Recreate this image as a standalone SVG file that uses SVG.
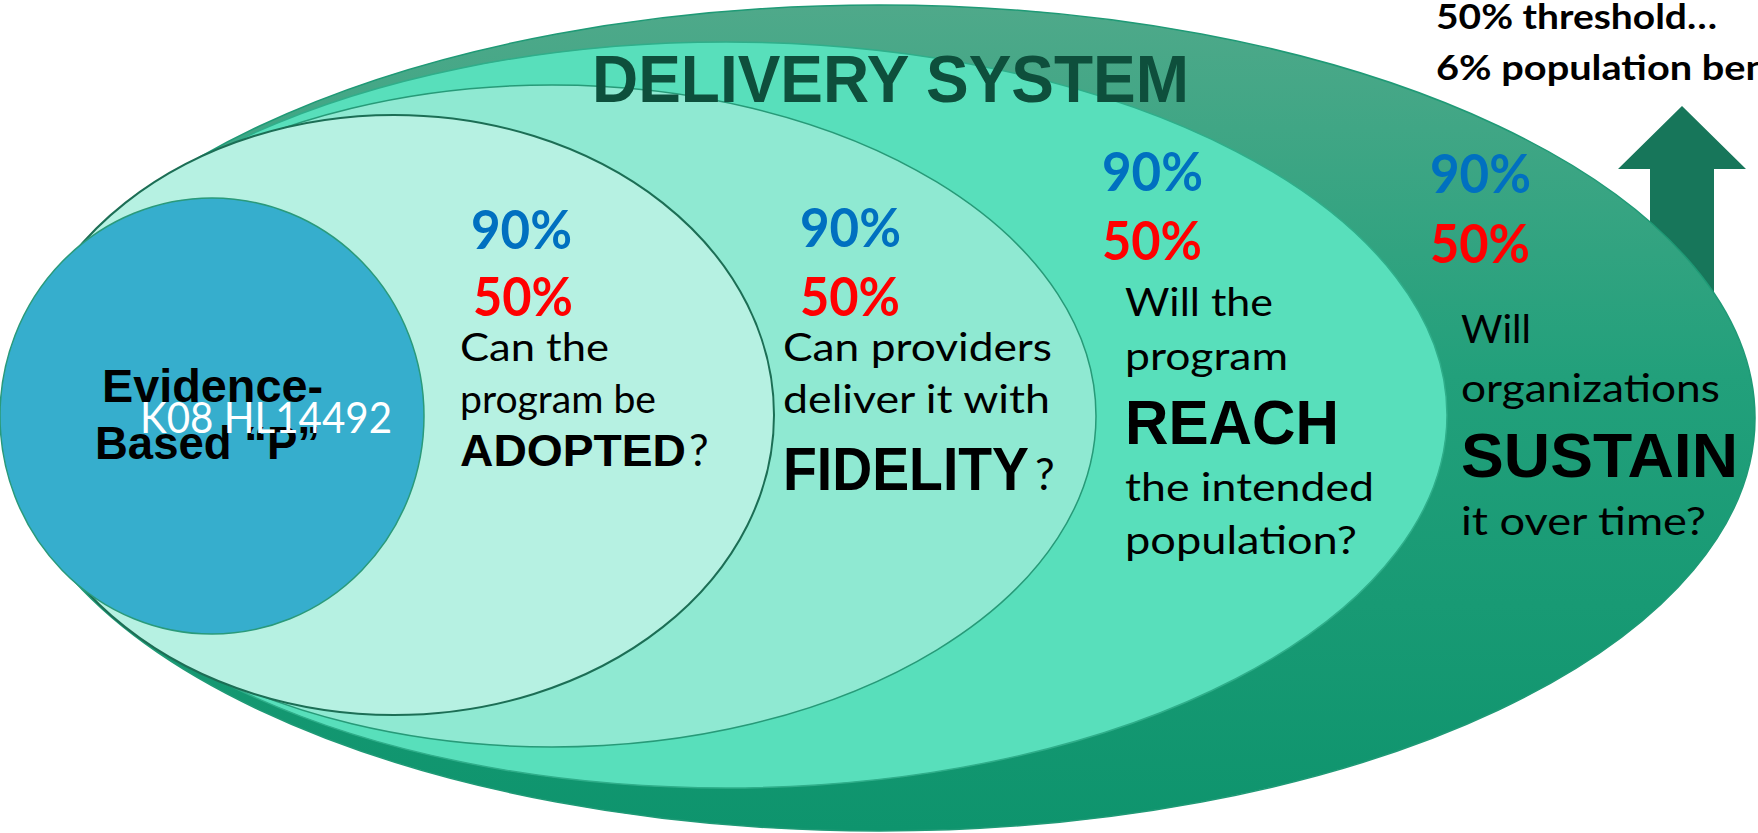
<svg xmlns="http://www.w3.org/2000/svg" width="1758" height="833" viewBox="0 0 1758 833">
<defs>
<linearGradient id="gOuter" x1="0" y1="0" x2="0" y2="1">
<stop offset="0" stop-color="#4fa98a"/>
<stop offset="0.45" stop-color="#22a07b"/>
<stop offset="1" stop-color="#0e946d"/>
</linearGradient>
<style>
.q{font-family:Lato,"Open Sans","Noto Sans",sans-serif;font-size:39px;fill:#000}
.qm{font-family:Lato,"Open Sans","Noto Sans",sans-serif;font-size:44px;fill:#000}
.qb{font-family:"Liberation Sans",Arial,sans-serif;font-weight:bold;fill:#000}
.pb{font-family:Lato,"Open Sans",sans-serif;font-weight:bold;font-size:53px;fill:#0070c0}
.pr{font-family:Lato,"Open Sans",sans-serif;font-weight:bold;font-size:53px;fill:#ff0000}
.top{font-family:Lato,"Open Sans",sans-serif;font-weight:bold;font-size:35px;fill:#000}
</style>
</defs>
<rect width="1758" height="833" fill="#ffffff"/>
<g id="arrow-up">
<polygon points="1682,106 1746,169 1714,169 1714,340 1650,340 1650,169 1618,169" fill="#17765a"/>
</g>
<g id="outer-ellipse">
<ellipse cx="879" cy="418" rx="876" ry="413" fill="url(#gOuter)" stroke="#1f9a76" stroke-width="1.5"/>
</g>
<g id="ellipse-reach">
<ellipse cx="726" cy="415" rx="721" ry="373" fill="#58dfbb" stroke="#2fae8a" stroke-width="1.5"/>
</g>
<g id="ellipse-fidelity">
<ellipse cx="552" cy="416" rx="544" ry="331" fill="#8fe9d2" stroke="#279a78" stroke-width="1.5"/>
</g>
<g id="ellipse-adopted">
<ellipse cx="394" cy="415" rx="380" ry="300" fill="#b6f1e2" stroke="#1c6e55" stroke-width="2"/>
</g>
<g id="title">
<text x="592" y="102" font-family="'Liberation Sans',Arial,sans-serif" font-weight="bold" font-size="66" fill="#0e4f3c" textLength="597" lengthAdjust="spacingAndGlyphs">DELIVERY SYSTEM</text>
</g>
<g id="ebp-circle">
<ellipse cx="212" cy="416" rx="212" ry="218" fill="#36aecd" stroke="#2a9a7a" stroke-width="1.5"/>
<text x="102" y="402" class="qb" font-size="47" textLength="221" lengthAdjust="spacingAndGlyphs">Evidence-</text>
<text x="95" y="459" class="qb" font-size="47" textLength="225" lengthAdjust="spacingAndGlyphs">Based “P”</text>
<text x="140" y="433" font-family="Lato,'Open Sans',sans-serif" font-size="42" fill="#ffffff" textLength="252" lengthAdjust="spacingAndGlyphs">K08 HL14492</text>
</g>
<g id="col-adopted">
<text x="471" y="249" class="pb" textLength="101" lengthAdjust="spacingAndGlyphs">90%</text>
<text x="473" y="316" class="pr" textLength="100" lengthAdjust="spacingAndGlyphs">50%</text>
<text x="460" y="361" class="q" textLength="149" lengthAdjust="spacingAndGlyphs">Can the</text>
<text x="460" y="413" class="q" textLength="196" lengthAdjust="spacingAndGlyphs">program be</text>
<text x="460" y="466" class="qb" font-size="44" textLength="226" lengthAdjust="spacingAndGlyphs">ADOPTED</text>
<text x="689" y="466" class="qm">?</text>
</g>
<g id="col-fidelity">
<text x="800" y="247" class="pb" textLength="101" lengthAdjust="spacingAndGlyphs">90%</text>
<text x="800" y="316" class="pr" textLength="100" lengthAdjust="spacingAndGlyphs">50%</text>
<text x="783" y="361" class="q" textLength="269" lengthAdjust="spacingAndGlyphs">Can providers</text>
<text x="783" y="413" class="q" textLength="267" lengthAdjust="spacingAndGlyphs">deliver it with</text>
<text x="783" y="490" class="qb" font-size="61" textLength="246" lengthAdjust="spacingAndGlyphs">FIDELITY</text>
<text x="1035" y="490" class="qm">?</text>
</g>
<g id="col-reach">
<text x="1102" y="191" class="pb" textLength="101" lengthAdjust="spacingAndGlyphs">90%</text>
<text x="1102" y="260" class="pr" textLength="100" lengthAdjust="spacingAndGlyphs">50%</text>
<text x="1125" y="316" class="q" textLength="148" lengthAdjust="spacingAndGlyphs">Will the</text>
<text x="1125" y="370" class="q" textLength="163" lengthAdjust="spacingAndGlyphs">program</text>
<text x="1125" y="444" class="qb" font-size="63" textLength="214" lengthAdjust="spacingAndGlyphs">REACH</text>
<text x="1125" y="501" class="q" textLength="249" lengthAdjust="spacingAndGlyphs">the intended</text>
<text x="1125" y="554" class="q" textLength="232" lengthAdjust="spacingAndGlyphs">population?</text>
</g>
<g id="col-sustain">
<text x="1430" y="193" class="pb" textLength="101" lengthAdjust="spacingAndGlyphs">90%</text>
<text x="1430" y="263" class="pr" textLength="100" lengthAdjust="spacingAndGlyphs">50%</text>
<text x="1461" y="343" class="q" textLength="70" lengthAdjust="spacingAndGlyphs">Will</text>
<text x="1461" y="402" class="q" textLength="259" lengthAdjust="spacingAndGlyphs">organizations</text>
<text x="1461" y="477" class="qb" font-size="63" textLength="277" lengthAdjust="spacingAndGlyphs">SUSTAIN</text>
<text x="1461" y="535" class="q" textLength="245" lengthAdjust="spacingAndGlyphs">it over time?</text>
</g>
<g id="threshold-note">
<text x="1436" y="29" class="top" textLength="281" lengthAdjust="spacingAndGlyphs">50% threshold…</text>
<text x="1436" y="80" class="top" textLength="332" lengthAdjust="spacingAndGlyphs">6% population ben</text>
</g>
</svg>
